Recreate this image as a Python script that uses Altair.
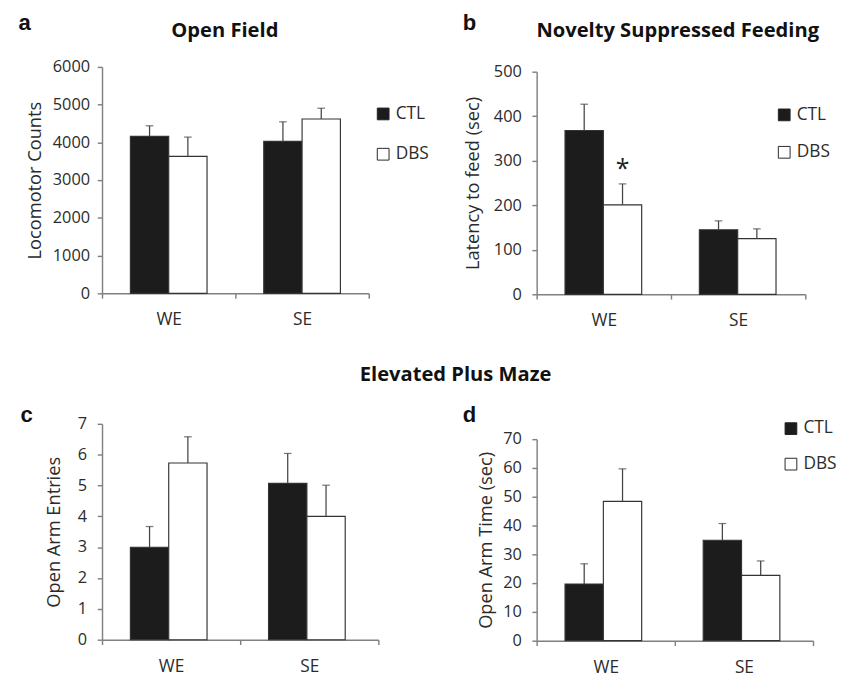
import altair as alt
import pandas as pd

cats = ["WE", "SE"]
groups = ["CTL", "DBS"]

# panel a: Open Field
a_mean = [4160, 3630, 4025, 4620]
a_err = [280, 510, 520, 285]
# panel b: Novelty Suppressed Feeding
b_mean = [368, 201, 145, 125]
b_err = [59, 47, 20, 22]
b_star = 280
# panel c: Open Arm Entries
c_mean = [3.0, 5.73, 5.07, 4.0]
c_err = [0.67, 0.85, 0.97, 1.01]
# panel d: Open Arm Time
d_mean = [19.7, 48.4, 34.9, 22.7]
d_err = [7.0, 11.3, 5.8, 5.0]

FONT = "Open Sans"
TXT = "#2b2b2b"


def panel(means, errs, ymax, ystep, ytitle, w, h, letter, lpos, pads, title=None, legend=None, star=None):
    rows = []
    i = 0
    for c in cats:
        for g in groups:
            rows.append({"cat": c, "grp": g, "mean": means[i], "top": means[i] + errs[i]})
            i += 1
    df = pd.DataFrame(rows)
    base = alt.Chart(df)
    x = alt.X("cat:N", sort=cats,
              scale=alt.Scale(paddingInner=0, paddingOuter=0),
              axis=alt.Axis(title=None, tickBand="extent", labelAngle=0, labelPadding=14,
                            labelFontSize=18))
    xo = alt.XOffset("grp:N", sort=groups, scale=alt.Scale(paddingInner=0, paddingOuter=0.74))
    vals = list(range(0, ymax + 1, ystep))
    yaxis = alt.Axis(values=vals, tickCount=len(vals), grid=False, title=ytitle,
                     labelPadding=pads[0], titlePadding=pads[1], labelOverlap=False, format="d")
    ysc = alt.Scale(domain=[0, ymax], nice=False)
    y = alt.Y("mean:Q", scale=ysc, axis=yaxis)
    if legend is None:
        leg = None
    else:
        leg = alt.Legend(orient="none", legendX=legend[0], legendY=legend[1], title=None,
                         symbolType="square", symbolSize=150, symbolStrokeColor="#222",
                         symbolStrokeWidth=1, labelFontSize=18, labelFont=FONT,
                         labelColor=TXT, rowPadding=legend[2], labelOffset=4)
    fill = alt.Fill("grp:N", sort=groups,
                    scale=alt.Scale(domain=groups, range=["#1c1c1c", "#ffffff"]), legend=leg)
    bars = base.mark_bar(stroke="#333", strokeWidth=1.2).encode(x=x, xOffset=xo, y=y, fill=fill)
    err = base.mark_rule(color="#444", strokeWidth=1.3).encode(x=x, xOffset=xo, y=y, y2="top:Q")
    cap = base.mark_tick(color="#444", size=8, thickness=1.3).encode(
        x=x, xOffset=xo, y=alt.Y("top:Q", scale=ysc, axis=yaxis))
    layers = [bars, err, cap]
    lt = alt.Chart(pd.DataFrame({"t": [letter]})).mark_text(
        font="Liberation Sans", fontWeight="bold", fontSize=23, color="#111", align="left",
        baseline="alphabetic").encode(text="t:N", x=alt.value(lpos[0]), y=alt.value(lpos[1]))
    layers.append(lt)
    if title is not None:
        tt = alt.Chart(pd.DataFrame({"t": [title[0]]})).mark_text(
            font=FONT, fontWeight="bold", fontSize=21, color="#111", align="center",
            baseline="middle").encode(text="t:N", x=alt.value(title[1]), y=alt.value(title[2]))
        layers.append(tt)
    if star is not None:
        sdf = pd.DataFrame({"cat": ["WE"], "grp": ["DBS"], "v": [star], "t": ["*"]})
        st = alt.Chart(sdf).mark_text(fontSize=26, font=FONT, color="#222", baseline="middle").encode(
            x=x, xOffset=xo, y=alt.Y("v:Q", scale=ysc, axis=yaxis), text="t:N")
        layers.append(st)
    return alt.layer(*layers).properties(width=w, height=h)


def spacer():
    # empty cell used only so that the grid places each panel by its own top extent
    return alt.Chart(pd.DataFrame({"t": [0]})).mark_rule(strokeWidth=0, opacity=0).encode(
        x=alt.value(0), x2=alt.value(0), y=alt.value(0)).properties(width=1, height=1)


pa = panel(a_mean, a_err, 6000, 1000, "Locomotor Counts", 278, 236, "a", (-87, -38), (8, 8),
           title=("Open Field", 128, -37), legend=(284, 40, 24))
pb = panel(b_mean, b_err, 500, 100, "Latency to feed (sec)", 280, 232, "b", (-77, -43), (11, 11),
           title=("Novelty Suppressed Feeding", 147, -42), legend=(249, 36, 21), star=b_star)
pc = panel(c_mean, c_err, 7, 1, "Open Arm Entries", 288, 225, "c", (-85, -2), (11, 15))
pd_ = panel(d_mean, d_err, 70, 10, "Open Arm Time (sec)", 288, 210, "d", (-77, -18), (11, 8),
            legend=(256, -20, 19))

top = alt.concat(spacer(), spacer(), pa, pb, columns=2, align="none",
                 spacing={"row": 0, "column": 35}).resolve_scale(
    fill="independent").resolve_legend(fill="independent")
bottom = alt.concat(spacer(), spacer(), pc, pd_, columns=2, align="none",
                    spacing={"row": 0, "column": 87}).resolve_scale(
    fill="independent").resolve_legend(fill="independent").properties(title=alt.TitleParams(
        "Elevated Plus Maze", font=FONT, fontSize=21, fontWeight="bold", color="#111",
        anchor="middle", dx=28, offset=20))

chart = alt.vconcat(top, bottom, spacing=36).resolve_scale(fill="independent").resolve_legend(
    fill="independent").configure_view(stroke=None).configure_axis(
    domainColor="#808080", tickColor="#808080", domainWidth=1.5, tickWidth=1.5, tickSize=5,
    labelColor=TXT, titleColor=TXT, labelFont=FONT, titleFont=FONT, labelFontSize=17,
    titleFontSize=19, titleFontWeight="normal").properties(
    padding={"left": 11, "top": -10, "right": 0, "bottom": 0})

chart.save("out.html", embed_options={"renderer": "svg", "actions": False})
